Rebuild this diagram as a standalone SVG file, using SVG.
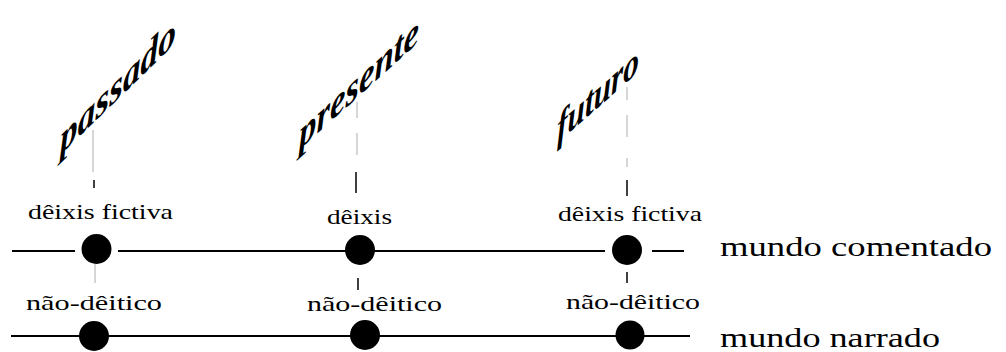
<svg xmlns="http://www.w3.org/2000/svg" width="1006" height="352" viewBox="0 0 1006 352">
<style>
.ax{stroke:#000;stroke-width:2;fill:none}
.gr{stroke:#c8c8c8;stroke-width:1.5;fill:none}
.tk{stroke:#000;stroke-width:1.5;fill:none}
.dot{fill:#000}
.lbl{font-family:"Liberation Serif","Times New Roman",serif;font-size:21px;fill:#000}
.big{font-family:"Liberation Serif","Times New Roman",serif;font-size:27px;fill:#000}
.tm{font-family:"Liberation Serif","Times New Roman",serif;font-size:41px;font-style:italic;font-weight:bold;fill:#000}
</style>
<rect width="1006" height="352" fill="#fff"/>
<g id="connectors">
<line class="ax" x1="12" y1="251" x2="75" y2="251"/>
<line class="ax" x1="118" y1="251" x2="605" y2="251"/>
<line class="ax" x1="652" y1="251" x2="684" y2="251"/>
<line class="ax" x1="11" y1="336" x2="690" y2="336"/>
<line class="gr" x1="93" y1="130" x2="93" y2="172"/>
<line class="tk" x1="94" y1="180" x2="94" y2="188"/>
<line class="gr" x1="95" y1="264" x2="95" y2="283"/>
<line class="gr" x1="357" y1="102" x2="357" y2="118" />
<line class="gr" x1="357" y1="133" x2="357" y2="155" />
<line class="tk" x1="356" y1="172" x2="356" y2="193"/>
<line class="tk" x1="358" y1="278" x2="358" y2="290"/>
<line class="gr" x1="627" y1="87" x2="627" y2="100"/>
<line class="gr" x1="627" y1="115" x2="627" y2="137"/>
<line class="gr" x1="627" y1="158" x2="627" y2="167"/>
<line class="tk" x1="627" y1="180" x2="627" y2="196"/>
<line class="tk" x1="627" y1="272" x2="627" y2="283"/>
</g>
<g id="passado"><text class="tm" transform="translate(60,155) skewY(-44)" textLength="116" lengthAdjust="spacingAndGlyphs">passado</text></g>
<g id="presente"><text class="tm" transform="translate(299,150) skewY(-42)" textLength="120" lengthAdjust="spacingAndGlyphs">presente</text></g>
<g id="futuro"><text class="tm" transform="translate(557,143) skewY(-41)" textLength="82" lengthAdjust="spacingAndGlyphs">futuro</text></g>
<g id="n-passado-com">
<text class="lbl" x="28" y="219" textLength="145" lengthAdjust="spacingAndGlyphs">dêixis fictiva</text>
<circle class="dot" cx="96.5" cy="249" r="15"/>
</g>
<g id="n-presente-com">
<text class="lbl" x="327" y="224" textLength="65" lengthAdjust="spacingAndGlyphs">dêixis</text>
<circle class="dot" cx="360" cy="250" r="15"/>
</g>
<g id="n-futuro-com">
<text class="lbl" x="558" y="221" textLength="144" lengthAdjust="spacingAndGlyphs">dêixis fictiva</text>
<circle class="dot" cx="627" cy="250" r="15"/>
</g>
<g id="n-passado-nar">
<text class="lbl" x="26" y="310" textLength="136" lengthAdjust="spacingAndGlyphs">não-dêitico</text>
<circle class="dot" cx="94" cy="336" r="15"/>
</g>
<g id="n-presente-nar">
<text class="lbl" x="307" y="311" textLength="135" lengthAdjust="spacingAndGlyphs">não-dêitico</text>
<circle class="dot" cx="365" cy="335" r="15"/>
</g>
<g id="n-futuro-nar">
<text class="lbl" x="566" y="309" textLength="134" lengthAdjust="spacingAndGlyphs">não-dêitico</text>
<circle class="dot" cx="630" cy="335" r="14.5"/>
</g>
<g id="mundo-comentado"><text class="big" x="720" y="256" textLength="272" lengthAdjust="spacingAndGlyphs">mundo comentado</text></g>
<g id="mundo-narrado"><text class="big" x="720" y="347" textLength="220" lengthAdjust="spacingAndGlyphs">mundo narrado</text></g>
</svg>
